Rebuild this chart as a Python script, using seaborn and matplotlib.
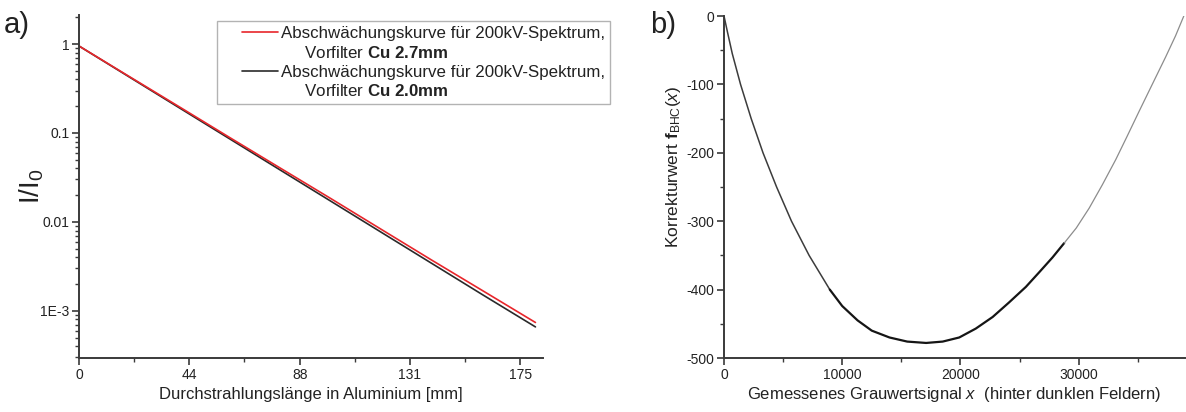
import matplotlib
matplotlib.use("Agg")
import matplotlib.pyplot as plt
import numpy as np
import pandas as pd
import seaborn as sns
from matplotlib.legend_handler import HandlerLine2D
from matplotlib.lines import Line2D
from matplotlib.ticker import FixedLocator, FuncFormatter, LogLocator, MultipleLocator, NullFormatter

# --- panel a: attenuation curves (I/I0 vs. aluminium thickness) ---
thickness_mm = [0, 20, 40, 60, 80, 100, 120, 140, 160, 181]
att_cu27 = [0.95, 0.43, 0.195, 0.088, 0.040, 0.0182, 0.0082, 0.0037, 0.00169, 0.00074]
att_cu20 = [0.95, 0.425, 0.19, 0.085, 0.038, 0.0170, 0.0076, 0.0034, 0.00152, 0.00066]
label_cu27 = "Abschwächungskurve für 200kV-Spektrum,"
label_cu27_2 = r"     Vorfilter $\mathbf{Cu\ 2.7mm}$"
label_cu20 = "Abschwächungskurve für 200kV-Spektrum,"
label_cu20_2 = r"     Vorfilter $\mathbf{Cu\ 2.0mm}$"
x_ticks_a = [0, 43.75, 87.5, 131.25, 175]
y_ticks_a = [1e-3, 1e-2, 1e-1, 1]
y_labels_a = ["1E-3", "0.01", "0.1", "1"]

# --- panel b: BHC correction function ---
grey_signal = [0, 300, 700, 1400, 2300, 3300, 4450, 5710, 7200, 8950, 10000,
               11300, 12500, 14000, 15500, 17100, 18500, 19900, 21300, 22730,
               24100, 25540, 26700, 27790, 28780,
               29800, 30890, 32000, 33140, 34100, 35100, 36200, 37360, 38200, 38900]
correction = [0, -24, -55, -100, -150, -200, -250, -300, -350, -400, -424,
              -445, -460, -470, -476, -478, -476, -470, -457, -440,
              -419, -396, -374, -353, -332,
              -310, -281, -247, -210, -176, -140, -101, -60, -29, 0]
steep_end = 8950      # upper branch drawn a bit lighter
measured_end = 28780  # beyond this the curve is extrapolated (thin grey)

sns.set_style("ticks")
plt.rcParams["font.family"] = ["Liberation Sans", "DejaVu Sans"]
plt.rcParams["mathtext.fontset"] = "custom"
plt.rcParams["mathtext.rm"] = "Liberation Sans"
plt.rcParams["mathtext.it"] = "Liberation Sans:italic"
plt.rcParams["mathtext.bf"] = "Liberation Sans:bold"
plt.rcParams["axes.unicode_minus"] = False


class HandlerShortLine(HandlerLine2D):
    # legend line only on the right part of the handle box
    def create_artists(self, legend, orig_handle, xdescent, ydescent, width, height,
                       fontsize, trans):
        artists = super().create_artists(legend, orig_handle, xdescent, ydescent,
                                         width, height, fontsize, trans)
        line = artists[0]
        x = np.asarray(line.get_xdata(), dtype=float)
        y = np.asarray(line.get_ydata(), dtype=float)
        x0, x1 = x.min(), x.max()
        line.set_data([x0 + 0.36 * (x1 - x0), x1], [y[0], y[0]])
        return artists


spine_col = "#3a3a3a"
text_col = "#222222"
fig = plt.figure(figsize=(11.86, 4.12), dpi=100, facecolor="white")
ax_a = fig.add_axes([79 / 1186, 1 - 358 / 412, (543 - 79) / 1186, (358 - 15) / 412])
ax_b = fig.add_axes([724 / 1186, 1 - 358 / 412, (1185 - 724) / 1186, (358 - 16) / 412])

for ax in (ax_a, ax_b):
    sns.despine(ax=ax)
    for s in ("left", "bottom"):
        ax.spines[s].set_color(spine_col)
        ax.spines[s].set_linewidth(1.4)
    ax.tick_params(which="major", direction="out", length=5, width=1.2,
                   color=spine_col, labelsize=10, pad=2, labelcolor=text_col)
    ax.tick_params(which="minor", direction="out", length=3, width=1.0, color=spine_col)

# panel a
df_a = pd.DataFrame({"x": thickness_mm, "cu27": att_cu27, "cu20": att_cu20})
sns.lineplot(data=df_a, x="x", y="cu20", ax=ax_a, color="#2a2a2a", lw=1.2)
sns.lineplot(data=df_a, x="x", y="cu27", ax=ax_a, color="#e8262b", lw=1.2)
ax_a.set_yscale("log")
ax_a.set_xlim(0, 184)
ax_a.set_ylim(2.95e-4, 2.12)
ax_a.xaxis.set_major_locator(FixedLocator(x_ticks_a))
ax_a.xaxis.set_major_formatter(FuncFormatter(lambda v, p: f"{v:.0f}"))
ax_a.xaxis.set_minor_locator(MultipleLocator(21.875))
ax_a.set_yticks(y_ticks_a, y_labels_a)
ax_a.yaxis.set_minor_locator(LogLocator(base=10, subs=np.arange(2, 10), numticks=20))
ax_a.yaxis.set_minor_formatter(NullFormatter())
ax_a.set_xlabel("Durchstrahlungslänge in Aluminium [mm]", fontsize=12, labelpad=4,
                color=text_col)
ax_a.set_ylabel(r"I/I$_0$", fontsize=20, labelpad=-4, color=text_col)

blank = Line2D([], [], lw=0)
handles = [Line2D([], [], color="#e8262b", lw=1.2), blank,
           Line2D([], [], color="#2a2a2a", lw=1.2), blank]
labels = [label_cu27, label_cu27_2, label_cu20, label_cu20_2]
leg = ax_a.legend(handles, labels, loc="upper left",
                  bbox_to_anchor=(217 / 1186, 1 - 21 / 412), bbox_transform=fig.transFigure,
                  fontsize=12.2, frameon=True, fancybox=False, edgecolor="#a0a0a0",
                  handlelength=3.3, handletextpad=0.15, labelspacing=0.22,
                  borderpad=0.3, borderaxespad=0,
                  handler_map={Line2D: HandlerShortLine()})
leg.get_frame().set_linewidth(1.0)
for t in leg.get_texts():
    t.set_color(text_col)

# panel b
df_b = pd.DataFrame({"signal": grey_signal, "corr": correction})
upper = df_b[df_b["signal"] <= steep_end]
bottom = df_b[(df_b["signal"] >= steep_end) & (df_b["signal"] <= measured_end)]
extr = df_b[df_b["signal"] >= measured_end]
sns.lineplot(data=upper, x="signal", y="corr", ax=ax_b, color="#3c3c3c", lw=1.1)
sns.lineplot(data=bottom, x="signal", y="corr", ax=ax_b, color="#151515", lw=1.6)
sns.lineplot(data=extr, x="signal", y="corr", ax=ax_b, color="#8c8c8c", lw=0.9)
ax_b.set_xlim(0, 39000)
ax_b.set_ylim(-500, 0)
ax_b.xaxis.set_major_locator(MultipleLocator(10000))
ax_b.xaxis.set_minor_locator(MultipleLocator(5000))
ax_b.yaxis.set_major_locator(MultipleLocator(100))
ax_b.yaxis.set_minor_locator(MultipleLocator(50))
ax_b.set_xlabel(r"Gemessenes Grauwertsignal $x$  (hinter dunklen Feldern)", fontsize=12,
                labelpad=2, color=text_col)
ax_b.set_ylabel(r"Korrekturwert $\mathbf{f}_{\mathrm{BHC}}(x)$", fontsize=12.5, labelpad=2,
                color=text_col)
ax_b.yaxis.label.set_y(0.56)

fig.text(4 / 1186, 1 - 33 / 412, "a)", fontsize=21, color=text_col, va="baseline")
fig.text(650 / 1186, 1 - 33 / 412, "b)", fontsize=21, color=text_col, va="baseline")

fig.savefig("out.png", dpi=100, facecolor="white")
